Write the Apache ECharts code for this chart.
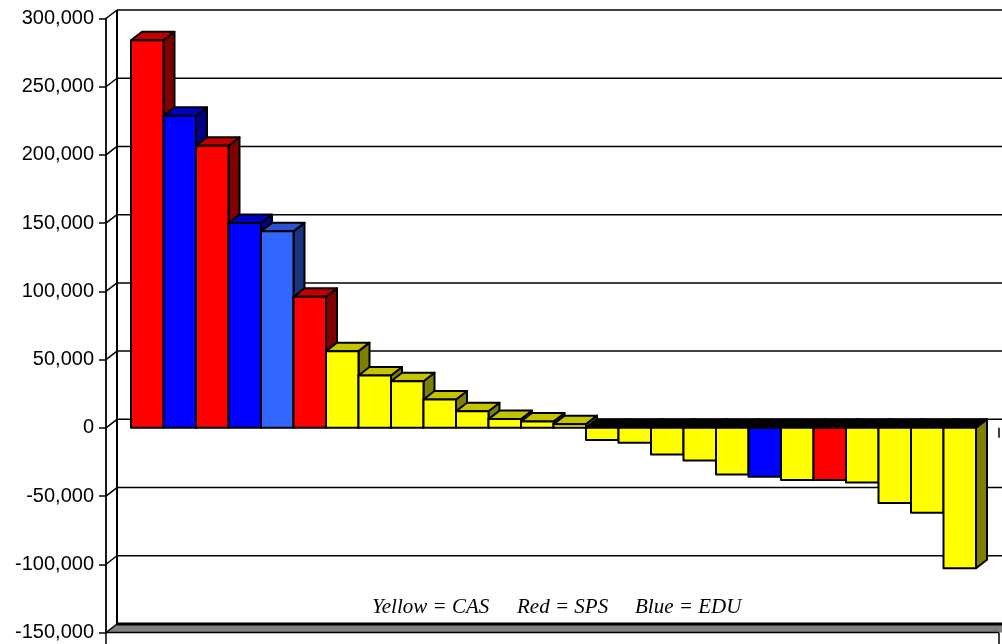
<!DOCTYPE html>
<html><head><meta charset="utf-8">
<script src="https://cdn.jsdelivr.net/npm/echarts@6/dist/echarts.min.js"></script>
<style>html,body{margin:0;padding:0;background:#fff}#c{width:1002px;height:644px}</style>
</head><body><div id="c"></div>
<script>
// ---- data ----
const categories = ['1','2','3','4','5','6','7','8','9','10','11','12','13','14','15','16','17','18','19','20','21','22','23','24','25','26'];
const values = [284000, 228700, 206700, 150100, 144000, 96000, 56200, 38400, 34200, 20800, 12200, 6400, 4700, 2700,
  -9000, -11000, -19500, -23900, -34200, -35900, -38300, -38300, -40000, -55000, -62300, -102900];
const groups = ['SPS','EDU','SPS','EDU','EDU2','SPS','CAS','CAS','CAS','CAS','CAS','CAS','CAS','CAS',
  'CAS','CAS','CAS','CAS','CAS','EDU','CAS','SPS','CAS','CAS','CAS','CAS'];
const yTicks = [-150000, -100000, -50000, 0, 50000, 100000, 150000, 200000, 250000, 300000];
const noteTexts = ['Yellow = CAS', 'Red = SPS', 'Blue = EDU'];

const palette = {
  CAS:  {front:'#ffff00', top:'#c4c400', side:'#808000'},
  SPS:  {front:'#ff0000', top:'#c00000', side:'#800000'},
  EDU:  {front:'#0000ff', top:'#0000c0', side:'#000080'},
  EDU2: {front:'#3366ff', top:'#2a55d0', side:'#1a3580'}
};
const DX = 11, DY = -8.5, AXIS_OFF = 25;

function renderBar(params, api) {
  const i = api.value(0), v = api.value(1);
  const c = palette[groups[params.dataIndex]];
  const p = api.coord([i, v]);
  const b = api.coord([i, 0]);
  const w = api.size([1, 0])[0];
  const L = p[0] - w / 2, R = p[0] + w / 2;
  const yT = Math.min(p[1], b[1]), yB = Math.max(p[1], b[1]);
  const st = {stroke:'#000', lineWidth:2, lineJoin:'round'};
  return {type:'group', children:[
    {type:'polygon', shape:{points:[[R,yT],[R+DX,yT+DY],[R+DX,yB+DY],[R,yB]]}, style:Object.assign({fill:c.side}, st)},
    {type:'polygon', shape:{points:[[L,yT],[L+DX,yT+DY],[R+DX,yT+DY],[R,yT]]}, style:Object.assign({fill: v < 0 ? '#000' : c.top}, st)},
    {type:'rect', shape:{x:L, y:yT, width:R-L, height:yB-yT}, style:Object.assign({fill:c.front}, st)}
  ]};
}

function renderGrid(params, api) {
  const v = api.value(1);
  const cs = params.coordSys;
  const y = api.coord([0, v])[1];
  const ax = cs.x - AXIS_OFF;
  const xEnd = cs.x + cs.width + 30;
  const frontR = cs.x + cs.width + 23;
  const ls = {stroke:'#000', lineWidth:1.5};
  const ch = [];
  if (v === yTicks[0]) {
    ch.push({type:'polygon', shape:{points:[[ax,y],[ax+DX,y+DY],[xEnd,y+DY],[xEnd,y],[ax,y]]}, style:{fill:'#808080', stroke:null}});
    ch.push({type:'line', shape:{x1:ax+DX, y1:y+DY, x2:xEnd, y2:y+DY}, style:{stroke:'#000', lineWidth:3}});
    ch.push({type:'line', shape:{x1:ax, y1:y, x2:ax+DX, y2:y+DY}, style:ls});
    ch.push({type:'line', shape:{x1:ax, y1:y, x2:frontR, y2:y}, style:ls});
    ch.push({type:'line', shape:{x1:ax, y1:y, x2:ax, y2:y+20}, style:ls});
    ch.push({type:'line', shape:{x1:frontR, y1:y, x2:frontR, y2:y+20}, style:ls});
  } else {
    ch.push({type:'line', shape:{x1:ax, y1:y, x2:ax+DX, y2:y+DY}, style:ls});
    ch.push({type:'line', shape:{x1:ax+DX, y1:y+DY, x2:xEnd, y2:y+DY}, style:ls});
  }
  if (v === yTicks[yTicks.length - 1]) {
    const yb = api.coord([0, yTicks[0]])[1];
    ch.push({type:'line', shape:{x1:ax+DX, y1:y+DY, x2:ax+DX, y2:yb+DY}, style:{stroke:'#000', lineWidth:2}});
  }
  if (v === 0) {
    ch.push({type:'line', shape:{x1:frontR, y1:y, x2:frontR, y2:y+10}, style:ls});
  }
  return {type:'group', children:ch};
}

const chart = echarts.init(document.getElementById('c'), null, {renderer:'canvas'});
chart.setOption({
  animation:false,
  backgroundColor:'#fff',
  grid:{left:131, right:26, top:18.5, bottom:11.5, containLabel:false},
  xAxis:{type:'category', data:categories, boundaryGap:true, show:false},
  yAxis:{type:'value', min:-150000, max:300000, interval:50000, offset:AXIS_OFF,
    axisLine:{show:true, lineStyle:{color:'#000', width:1.8}},
    axisTick:{show:true, inside:false, length:7, lineStyle:{color:'#000', width:1.5}},
    axisLabel:{color:'#000', fontFamily:'Liberation Sans, Arial, sans-serif', fontSize:20, margin:12,
      formatter: v => v.toLocaleString('en-US')},
    splitLine:{show:false}},
  series:[
    {type:'custom', z:1, clip:false, renderItem:renderGrid, data:yTicks.map(v => [0, v]), encode:{x:0, y:1}, silent:true},
    {type:'custom', z:2, clip:false, renderItem:renderBar, data:values.map((v, i) => [i, v]), encode:{x:0, y:1}}
  ],
  graphic:noteTexts.map((t, k) => ({type:'text', left:[372, 517, 635][k], top:597, z:10,
    style:{text:t, fill:'#000', font:'italic 21px "Liberation Serif", "Times New Roman", serif'}}))
});
</script></body></html>
